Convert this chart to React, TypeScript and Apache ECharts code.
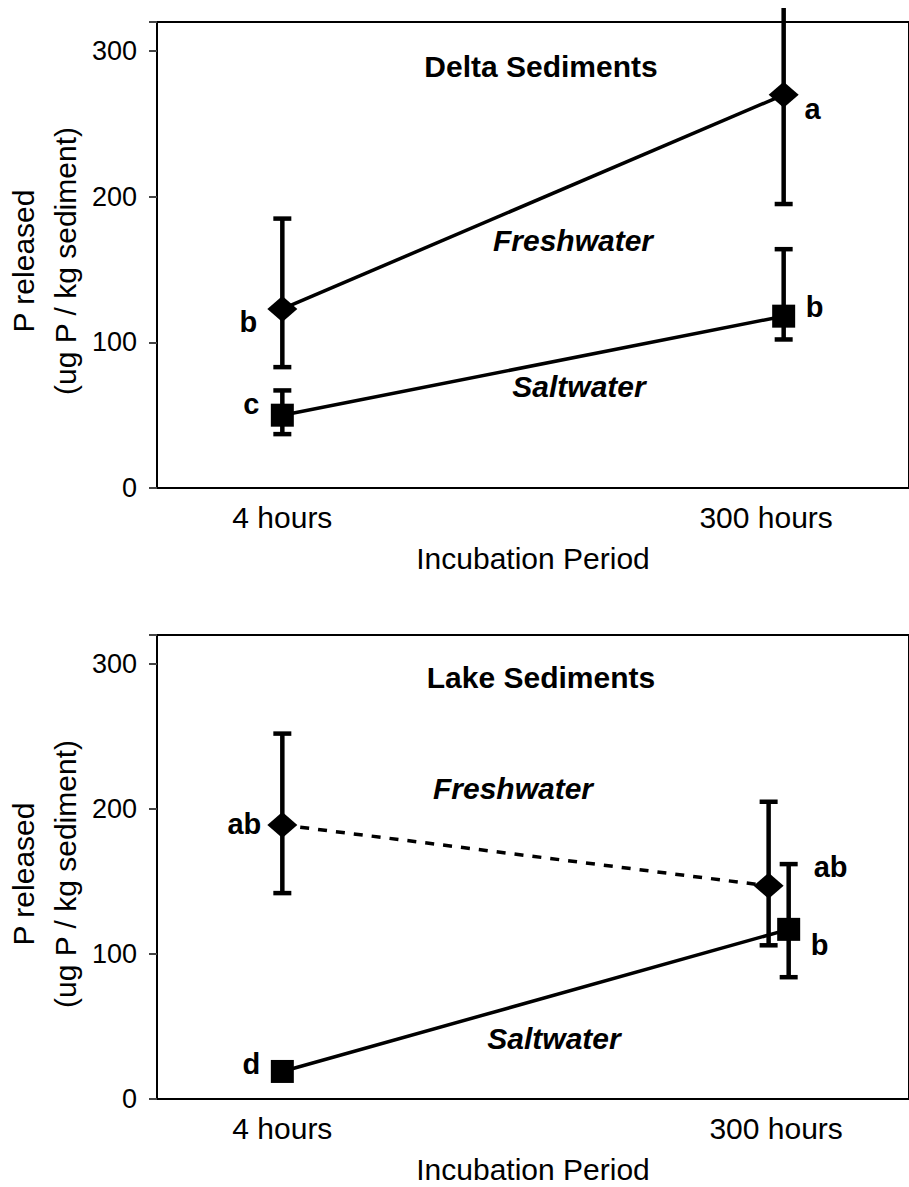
import React, { useEffect, useRef } from "react";
import * as echarts from "echarts";

// ---- data ----
const categories = ["4 hours", "300 hours"];
const panelTitles = ["Delta Sediments", "Lake Sediments"];
const yTicks = [0, 100, 200, 300];

// x positions (axis units) of points and category labels
const deltaFreshX = [1, 2];
const deltaSaltX = [1, 2];
const lakeFreshX = [1, 1.97];
const lakeSaltX = [1, 2.01];
const deltaLabelX = [1, 1.965];
const lakeLabelX = [1, 1.985];

// Delta sediments
const deltaFreshMean = [123, 270];
const deltaFreshLow = [83, 195];
const deltaFreshHigh = [185, 345];
const deltaSaltMean = [50, 118];
const deltaSaltLow = [37, 102];
const deltaSaltHigh = [67, 164];

// Lake sediments
const lakeFreshMean = [189, 147];
const lakeFreshLow = [142, 106];
const lakeFreshHigh = [252, 205];
const lakeSaltMean = [19, 117];
const lakeSaltLow = [19, 84];
const lakeSaltHigh = [19, 162];

// significance letters
const deltaFreshLetters = ["b", "a"];
const deltaSaltLetters = ["c", "b"];
const lakeFreshLetters = ["ab", "ab"];
const lakeSaltLetters = ["d", "b"];

const FONT = "'Liberation Sans', Arial, sans-serif";

export default function App() {
  const ref = useRef<HTMLDivElement>(null);

  useEffect(() => {
    if (!ref.current) return;
    const chart = echarts.init(ref.current, null, { renderer: "svg" });

    const letterLabel = (text: string, offset: number[]) => ({
      show: true,
      formatter: text,
      position: "inside",
      offset,
      color: "#000",
      fontFamily: FONT,
      fontWeight: "bold",
      fontSize: 29,
      align: "center",
      verticalAlign: "middle",
    });

    const pts = (xs: number[], ys: number[], letters: string[], offsets: number[][]) =>
      xs.map((x, i) => ({ value: [x, ys[i]], label: letterLabel(letters[i], offsets[i]) }));

    const errs = (xs: number[], lo: number[], hi: number[]) =>
      xs.map((x, i) => [x, lo[i], hi[i]]);

    const errorSeries = (gi: number, data: number[][]) => ({
      type: "custom",
      xAxisIndex: gi,
      yAxisIndex: gi,
      data,
      z: 3,
      silent: true,
      encode: { x: 0, y: [1, 2] },
      renderItem: (params: any, api: any) => {
        const x = api.value(0);
        const lo = api.value(1);
        const hi = api.value(2);
        const p1 = api.coord([x, hi]);
        const p2 = api.coord([x, lo]);
        const hw = 9;
        const st = { stroke: "#000", lineWidth: 4.5 };
        return {
          type: "group",
          children: [
            { type: "line", shape: { x1: p1[0], y1: p1[1], x2: p2[0], y2: p2[1] }, style: st },
            { type: "line", shape: { x1: p1[0] - hw, y1: p1[1], x2: p1[0] + hw, y2: p1[1] }, style: st },
            { type: "line", shape: { x1: p2[0] - hw, y1: p2[1], x2: p2[0] + hw, y2: p2[1] }, style: st },
          ],
        };
      },
    });

    const lineSeries = (gi: number, data: any[], symbol: string, size: any, dashed: boolean) => ({
      type: "line",
      xAxisIndex: gi,
      yAxisIndex: gi,
      data,
      symbol,
      symbolSize: size,
      showAllSymbol: true,
      z: 4,
      itemStyle: { color: "#000" },
      lineStyle: { color: "#000", width: 3.5, type: dashed ? [9, 9] : "solid" },
    });

    // the chart div starts 8px below the page top
    const grids = [
      { left: 157, top: 14, right: -12, height: 466 },
      { left: 157, top: 627, right: -12, height: 464 },
    ];
    const labelXs = [deltaLabelX, lakeLabelX];

    const xAxes = grids.map((_, gi) => ({
      type: "value",
      gridIndex: gi,
      min: 0.75,
      max: 2.25,
      splitLine: { show: false },
      axisTick: { show: false },
      axisLine: { show: true, onZero: false, lineStyle: { color: "#000", width: 2 } },
      axisLabel: {
        customValues: labelXs[gi],
        formatter: (v: number) => (v < 1.5 ? categories[0] : categories[1]),
        fontFamily: FONT,
        fontSize: 30,
        color: "#000",
        margin: 14,
      },
      name: "Incubation Period",
      nameLocation: "middle",
      nameGap: 55,
      nameTextStyle: { fontFamily: FONT, fontSize: 30, color: "#000" },
    }));

    const yAxes = grids.map((_, gi) => ({
      type: "value",
      gridIndex: gi,
      min: 0,
      max: 320,
      interval: 100,
      splitLine: { show: false },
      axisLine: { show: true, lineStyle: { color: "#000", width: 2 } },
      axisTick: { show: true, length: 8, lineStyle: { color: "#444", width: 2 } },
      axisLabel: {
        fontFamily: FONT,
        fontSize: 27,
        color: "#000",
        margin: 20,
        formatter: (v: number) => (yTicks.includes(v) ? String(v) : ""),
      },
    }));

    const textEl = (text: string, x: number, y: number, extra: any = {}) => ({
      type: "text",
      x,
      y,
      style: {
        text,
        fontFamily: FONT,
        fontSize: 30,
        fill: "#000",
        align: "center",
        verticalAlign: "middle",
        ...extra,
      },
      z: 10,
    });

    const yTitle = (y: number) => ({
      type: "text",
      x: 44,
      y,
      rotation: Math.PI / 2,
      style: {
        text: "P released\n(ug P / kg sediment)",
        fontFamily: FONT,
        fontSize: 30,
        lineHeight: 42,
        fill: "#000",
        align: "center",
        verticalAlign: "middle",
      },
    });

    const option: any = {
      animation: false,
      backgroundColor: "#fff",
      grid: grids.map((g) => ({ ...g, show: true, borderColor: "#000", borderWidth: 2, backgroundColor: "transparent" })),
      xAxis: xAxes,
      yAxis: yAxes,
      graphic: [
        textEl(panelTitles[0], 541, 58, { fontWeight: "bold" }),
        textEl(panelTitles[1], 541, 669, { fontWeight: "bold" }),
        textEl("Freshwater", 573, 232, { fontWeight: "bold", fontStyle: "italic" }),
        textEl("Saltwater", 579, 378, { fontWeight: "bold", fontStyle: "italic" }),
        textEl("Freshwater", 513, 780, { fontWeight: "bold", fontStyle: "italic" }),
        textEl("Saltwater", 554, 1030, { fontWeight: "bold", fontStyle: "italic" }),
        yTitle(253),
        yTitle(866),
      ],
      series: [
        errorSeries(0, errs(deltaFreshX, deltaFreshLow, deltaFreshHigh)),
        errorSeries(0, errs(deltaSaltX, deltaSaltLow, deltaSaltHigh)),
        errorSeries(1, errs(lakeFreshX, lakeFreshLow, lakeFreshHigh)),
        errorSeries(1, errs(lakeSaltX, lakeSaltLow, lakeSaltHigh)),
        lineSeries(0, pts(deltaFreshX, deltaFreshMean, deltaFreshLetters, [[-34, 13], [29, 14]]), "diamond", [30, 26], false),
        lineSeries(0, pts(deltaSaltX, deltaSaltMean, deltaSaltLetters, [[-31, -11], [31, -9]]), "rect", 23, false),
        lineSeries(1, pts(lakeFreshX, lakeFreshMean, lakeFreshLetters, [[-38, -1], [62, -19]]), "diamond", [30, 26], true),
        lineSeries(1, pts(lakeSaltX, lakeSaltMean, lakeSaltLetters, [[-31, -7], [31, 16]]), "rect", 23, false),
      ],
    };

    chart.setOption(option);
    return () => chart.dispose();
  }, []);

  return (
    <div
      ref={ref}
      style={{ position: "absolute", left: 0, top: 8, width: 909, height: 1179, background: "#fff" }}
    />
  );
}
